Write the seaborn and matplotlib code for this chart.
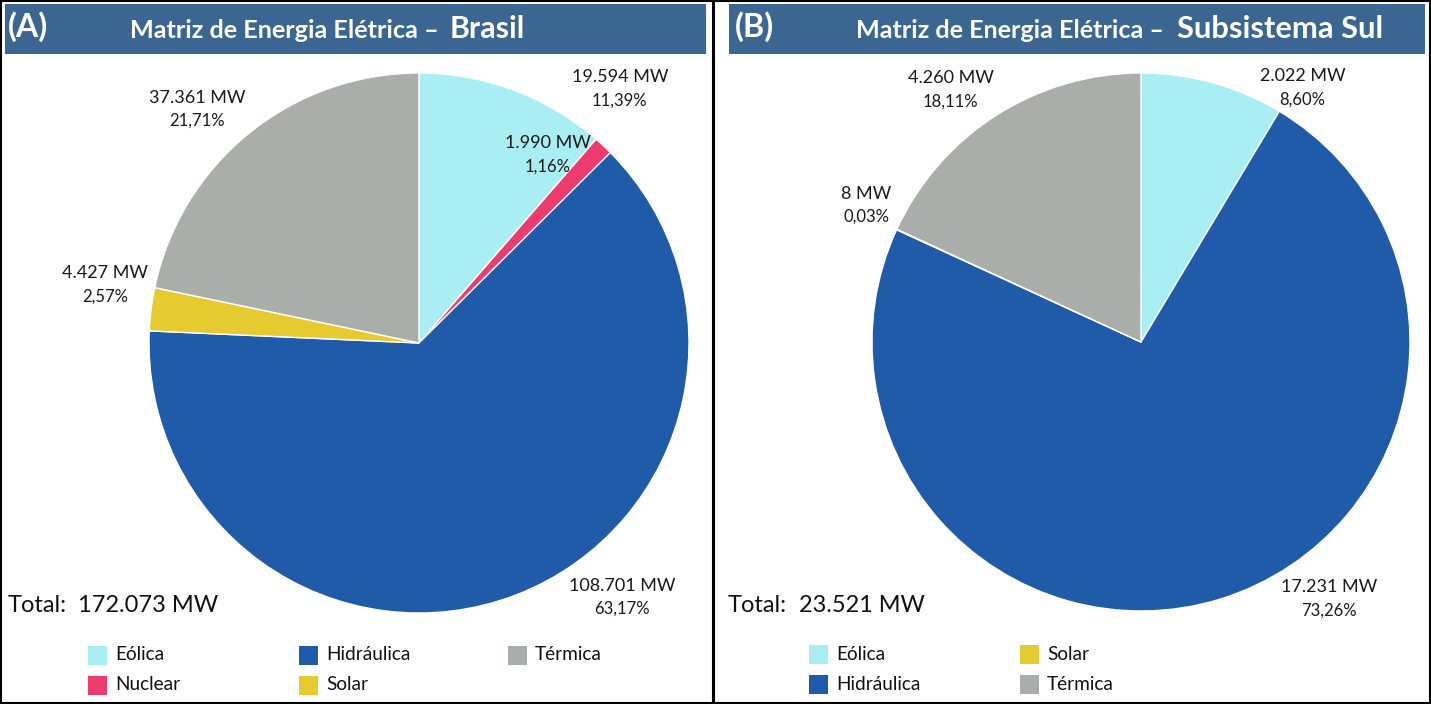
import matplotlib
matplotlib.use("Agg")
import matplotlib.pyplot as plt
import seaborn as sns
from matplotlib.patches import Rectangle

sns.set_theme(style="white")
plt.rcParams['font.family'] = ['Lato', 'DejaVu Sans']

# ---------------- data ----------------
cat_brasil = ["Eólica", "Nuclear", "Hidráulica", "Solar", "Térmica"]
mw_brasil = [19594, 1990, 108701, 4427, 37361]
cat_sul = ["Eólica", "Hidráulica", "Solar", "Térmica"]
mw_sul = [2022, 17231, 8, 4260]
panel_letters = ["(A)", "(B)"]
panel_regions = ["Brasil", "Subsistema Sul"]
title_prefix = "Matriz de Energia Elétrica –"
total_label = "Total:"

palette = {"Eólica": "#A8EEF3", "Nuclear": "#EE3B6E", "Hidráulica": "#1F5BA9",
           "Solar": "#E6CB30", "Térmica": "#AAAEAB"}

# ---------------- layout (pixels) ----------------
W, H = 1431, 704
fig = plt.figure(figsize=(W / 100, H / 100), dpi=100)
fig.patch.set_facecolor("white")
renderer = fig.canvas.get_renderer()


def fx(x):
    return x / W


def fy(y):
    return 1 - y / H


def fit(t, target):
    w = t.get_window_extent(renderer).width
    t.set_fontsize(t.get_fontsize() * target / w)
    return t


def fmt_mw(v):
    return f"{v:,}".replace(",", ".") + " MW"


def fmt_pct(p):
    return f"{p:.2f}".replace(".", ",") + "%"


panels = [
    dict(cats=cat_brasil, vals=mw_brasil, cx=419, cy=343, r=270,
         frame=(1, 1, 713, 703), bar=(5, 4, 706, 54), letter_x=8, letter_w=40,
         prefix_x=130, prefix_w=310, region_x=450, region_w=75,
         total_x=8, total_w=59, value_x=78, value_w=140,
         # (x, y_value, y_pct) in pie data coords
         labels=[(0.744, 0.985, 0.896), (0.478, 0.741, 0.652), (0.752, -0.900, -0.985),
                 (-1.163, 0.259, 0.170), (-0.822, 0.907, 0.822)],
         leg_cols=[88, 299, 508], leg_rows=[655, 685]),
    dict(cats=cat_sul, vals=mw_sul, cx=1141, cy=342, r=269,
         frame=(714, 1, 1430, 703), bar=(729, 4, 1425, 54), letter_x=735, letter_w=39,
         prefix_x=856, prefix_w=309, region_x=1177, region_w=206,
         total_x=728, total_w=59, value_x=799, value_w=126,
         labels=[(0.600, 0.989, 0.900), (0.700, -0.911, -1.000),
                 (-1.022, 0.552, 0.467), (-0.707, 0.981, 0.893)],
         leg_cols=[809, 1020], leg_rows=[654, 684]),
]

for i, p in enumerate(panels):
    # frame
    x0, y0, x1, y1 = p["frame"]
    fig.add_artist(Rectangle((fx(x0), fy(y1)), (x1 - x0) / W, (y1 - y0) / H,
                             transform=fig.transFigure, fill=False,
                             edgecolor="black", linewidth=1.5))
    # title bar
    bx0, by0, bx1, by1 = p["bar"]
    fig.add_artist(Rectangle((fx(bx0), fy(by1)), (bx1 - bx0) / W, (by1 - by0) / H,
                             transform=fig.transFigure, facecolor="#3A6691",
                             edgecolor="none"))
    t = fig.text(fx(p["letter_x"]), fy(27), panel_letters[i], color="white",
                 fontsize=22, fontweight="bold", ha="left", va="center")
    fit(t, p["letter_w"])
    t = fig.text(fx(p["prefix_x"]), fy(30), title_prefix, color="white",
                 fontsize=16, fontweight="bold", ha="left", va="center")
    fit(t, p["prefix_w"])
    t = fig.text(fx(p["region_x"]), fy(29), panel_regions[i], color="white",
                 fontsize=20, fontweight="bold", ha="left", va="center")
    fit(t, p["region_w"])

    # pie
    cx, cy, r = p["cx"], p["cy"], p["r"]
    ax = fig.add_axes([(cx - r) / W, (H - cy - r) / H, 2 * r / W, 2 * r / H])
    ax.pie(p["vals"], colors=[palette[c] for c in p["cats"]], startangle=90,
           counterclock=False, radius=1,
           wedgeprops=dict(edgecolor="white", linewidth=1.0))
    ax.set_xlim(-1, 1)
    ax.set_ylim(-1, 1)
    ax.axis("off")
    total = sum(p["vals"])
    for v, (lx, ly, lp) in zip(p["vals"], p["labels"]):
        ax.text(lx, ly, fmt_mw(v), ha="center", va="center", fontsize=13,
                color="#1a1a1a", clip_on=False)
        ax.text(lx, lp, fmt_pct(v / total * 100), ha="center", va="center",
                fontsize=12, color="#1a1a1a", clip_on=False)

    # total
    t = fig.text(fx(p["total_x"]), fy(606), total_label, fontsize=16,
                 color="#111111", ha="left", va="center")
    fit(t, p["total_w"])
    t = fig.text(fx(p["value_x"]), fy(605), fmt_mw(total), fontsize=18,
                 color="#111111", ha="left", va="center")
    fit(t, p["value_w"])

    # legend (column-major order)
    nrows = len(p["leg_rows"])
    for k, c in enumerate(p["cats"]):
        lx = p["leg_cols"][k // nrows]
        ly = p["leg_rows"][k % nrows]
        fig.add_artist(Rectangle((fx(lx), fy(ly + 9.5)), 19 / W, 19 / H,
                                 transform=fig.transFigure,
                                 facecolor=palette[c], edgecolor="none"))
        fig.text(fx(lx + 27), fy(ly), c, fontsize=13.7, color="#111111",
                 ha="left", va="center")

fig.savefig("out.png", dpi=100, facecolor="white")
